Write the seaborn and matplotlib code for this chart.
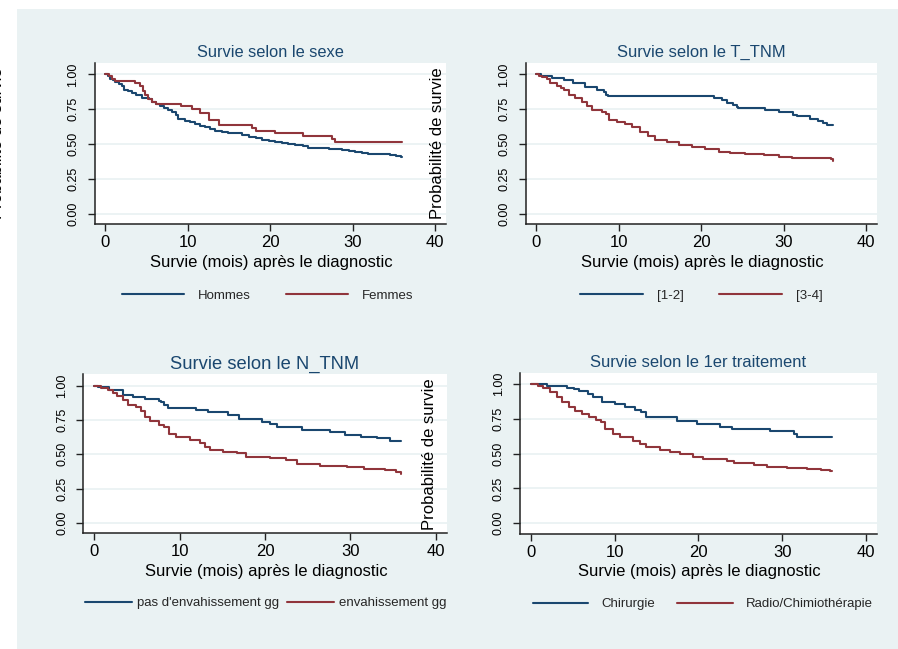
import numpy as np
import pandas as pd
import matplotlib
matplotlib.use("Agg")
import matplotlib.pyplot as plt
from matplotlib.lines import Line2D
from matplotlib.patches import Rectangle
import seaborn as sns

# ---------------- data ----------------
titles = ["Survie selon le sexe", "Survie selon le T_TNM",
          "Survie selon le N_TNM", "Survie selon le 1er traitement"]
xlabel = "Survie (mois) après le diagnostic"
ylabel = "Probabilité de survie"
xticks = [0, 10, 20, 30, 40]
yticks = [0.0, 0.25, 0.5, 0.75, 1.0]
ytick_labels = ["0.00", "0.25", "0.50", "0.75", "1.00"]

groups_sexe = ["Hommes", "Femmes"]
t_hommes = [0, 0.3, 0.6, 0.9, 1.2, 1.6, 2.0, 2.2, 2.7, 3.2, 3.7, 4.4, 5.25, 5.7, 6.1, 6.6, 7.1,
            7.6, 8.1, 8.5, 8.8, 9.7, 10.3, 10.9, 11.5, 12.1, 12.7, 13.3, 14.1, 14.9, 16.6, 17.4,
            18.2, 19.0, 19.8, 20.6, 21.4, 22.2, 23.0, 24.0, 24.6, 27.1, 28.7, 29.5, 30.3, 31.1,
            31.9, 33.5, 34.5, 35.2, 35.8, 36]
s_hommes = [1.0, 0.985, 0.97, 0.958, 0.945, 0.93, 0.915, 0.89, 0.88, 0.865, 0.85, 0.83, 0.82,
            0.805, 0.79, 0.775, 0.76, 0.745, 0.728, 0.71, 0.68, 0.666, 0.655, 0.644, 0.632, 0.62,
            0.607, 0.594, 0.584, 0.577, 0.565, 0.552, 0.54, 0.53, 0.522, 0.514, 0.507, 0.501,
            0.495, 0.484, 0.474, 0.464, 0.455, 0.452, 0.444, 0.437, 0.43, 0.426, 0.42, 0.412,
            0.406, 0.404]
t_femmes = [0, 0.4, 0.8, 1.2, 3.6, 4.2, 4.6, 4.85, 5.2, 5.6, 6.1, 9.2, 10.5, 11.5, 12.5, 13.8,
            17.8, 18.2, 20.6, 24.0, 27.5, 27.8, 36]
s_femmes = [1.0, 0.985, 0.97, 0.95, 0.935, 0.92, 0.88, 0.85, 0.82, 0.80, 0.785, 0.77, 0.75,
            0.72, 0.675, 0.64, 0.617, 0.593, 0.577, 0.557, 0.533, 0.512, 0.512]

groups_t = ["[1-2]", "[3-4]"]
t_t12 = [0, 0.6, 1.9, 3.3, 4.5, 5.9, 7.4, 8.2, 8.5, 8.7, 21.5, 22.5, 23.1, 23.9, 24.3, 24.5,
         27.8, 29.4, 31.2, 31.6, 33.2, 34.2, 34.8, 35.3, 36]
s_t12 = [1.0, 0.986, 0.976, 0.962, 0.935, 0.909, 0.89, 0.875, 0.855, 0.842, 0.83, 0.813, 0.797,
         0.778, 0.765, 0.76, 0.742, 0.727, 0.706, 0.70, 0.682, 0.667, 0.65, 0.64, 0.64]
t_t34 = [0, 0.3, 0.7, 1.3, 1.7, 2.5, 3.0, 3.3, 3.9, 4.7, 5.5, 6.1, 6.75, 8.0, 8.4, 8.8, 9.8,
         10.8, 11.6, 12.6, 13.6, 14.4, 15.8, 17.3, 18.9, 20.5, 22.1, 23.5, 25.3, 27.6, 29.4,
         31.0, 35.8, 36]
s_t34 = [1.0, 0.99, 0.98, 0.964, 0.938, 0.916, 0.90, 0.885, 0.85, 0.833, 0.80, 0.773, 0.746,
         0.73, 0.718, 0.67, 0.658, 0.643, 0.62, 0.586, 0.557, 0.529, 0.514, 0.495, 0.476, 0.462,
         0.443, 0.433, 0.426, 0.419, 0.409, 0.40, 0.392, 0.38]

groups_n = ["pas d'envahissement gg", "envahissement gg"]
t_n0 = [0, 0.4, 1.7, 3.3, 4.5, 5.9, 7.6, 7.8, 8.2, 8.6, 11.95, 13.3, 15.7, 17.0, 19.6, 20.6,
        21.4, 24.3, 27.6, 29.4, 31.2, 33.1, 34.6, 36]
s_n0 = [1.0, 0.99, 0.966, 0.935, 0.915, 0.90, 0.89, 0.877, 0.857, 0.84, 0.82, 0.809, 0.789,
        0.76, 0.736, 0.717, 0.70, 0.68, 0.659, 0.64, 0.625, 0.615, 0.596, 0.596]
t_n1 = [0, 0.8, 1.6, 2.2, 2.7, 3.3, 3.9, 4.9, 5.5, 5.9, 6.5, 7.6, 8.2, 8.7, 9.6, 11.2, 12.4,
        13.0, 13.5, 15.1, 16.7, 17.8, 20.6, 22.5, 23.7, 26.5, 29.6, 31.6, 34.1, 35.3, 36]
s_n1 = [1.0, 0.983, 0.966, 0.947, 0.925, 0.898, 0.857, 0.845, 0.814, 0.772, 0.741, 0.712, 0.70,
        0.651, 0.627, 0.603, 0.579, 0.554, 0.53, 0.518, 0.506, 0.482, 0.47, 0.458, 0.426,
        0.414, 0.404, 0.392, 0.383, 0.373, 0.356]

groups_trt = ["Chirurgie", "Radio/Chimiothérapie"]
t_chir = [0, 1.9, 4.3, 5.1, 5.7, 6.85, 7.45, 8.45, 10.0, 11.2, 12.4, 13.1, 13.8, 17.4, 19.8,
          22.6, 24.0, 28.6, 31.4, 31.8, 36]
s_chir = [1.0, 0.988, 0.974, 0.962, 0.947, 0.928, 0.904, 0.873, 0.856, 0.837, 0.817, 0.80,
          0.764, 0.736, 0.712, 0.692, 0.68, 0.661, 0.642, 0.618, 0.618]
t_radio = [0, 0.9, 1.5, 2.3, 3.1, 3.7, 4.5, 5.3, 6.1, 6.9, 7.8, 8.4, 8.8, 9.8, 10.6, 12.2,
           13.0, 13.8, 15.4, 16.6, 17.8, 19.4, 20.6, 23.4, 24.2, 26.6, 28.2, 30.6, 33.0, 34.6,
           35.7, 36]
s_radio = [1.0, 0.988, 0.974, 0.942, 0.906, 0.87, 0.839, 0.81, 0.786, 0.762, 0.743, 0.726,
           0.678, 0.642, 0.618, 0.594, 0.57, 0.546, 0.529, 0.514, 0.498, 0.478, 0.462, 0.45,
           0.43, 0.418, 0.406, 0.394, 0.389, 0.385, 0.373, 0.373]

panels_data = [
    (groups_sexe, (t_hommes, s_hommes), (t_femmes, s_femmes)),
    (groups_t, (t_t12, s_t12), (t_t34, s_t34)),
    (groups_n, (t_n0, s_n0), (t_n1, s_n1)),
    (groups_trt, (t_chir, s_chir), (t_radio, s_radio)),
]

# ---------------- styling / layout ----------------
W, H = 898, 649
BLUE, RED = "#1A476F", "#90353B"
BG = "#EAF2F3"
sns.set_style("white")
plt.rcParams["font.family"] = ["Liberation Sans", "DejaVu Sans"]

fig = plt.figure(figsize=(W / 100, H / 100), dpi=100, facecolor="white")
fig.patches.append(Rectangle((17 / W, 0), 1 - 17 / W, 1 - 9 / H, transform=fig.transFigure,
                             facecolor=BG, edgecolor="none", zorder=-10))

def px_rect(l, t, r, b):
    return [l / W, 1 - b / H, (r - l) / W, (b - t) / H]

# axes boxes in pixels (left, top, right, bottom)
boxes = [(94.7, 63, 446, 224), (525.7, 63, 876.7, 224),
         (83.3, 374.3, 446.7, 533.3), (520, 372.7, 876.7, 533.7)]
title_sizes = [11.8, 11.9, 13.2, 11.9]
title_pads = [4.1, 4.1, 3.8, 3.9]
xlabel_pos = [(271.7, 266.7), (702.5, 266.7), (266.2, 575.7), (699.5, 575.7)]
legend_pos = [(121.7, 295.5), (580, 295.5), (85, 603), (533, 604)]
legend_opts = [dict(handlelength=4.7, handletextpad=1.06, columnspacing=2.7),
               dict(handlelength=4.8, handletextpad=1.06, columnspacing=2.6),
               dict(handlelength=3.56, handletextpad=0.38, columnspacing=0.6),
               dict(handlelength=4.2, handletextpad=1.0, columnspacing=1.67)]
ylabel_pos = [(-2.0, 143.5), (437.5, 143.5), None, (429, 454)]

for i, (groups, g1, g2) in enumerate(panels_data):
    ax = fig.add_axes(px_rect(*boxes[i]), zorder=1)
    ax.set_facecolor("white")
    df = pd.concat([
        pd.DataFrame({"t": g1[0], "s": g1[1], "g": groups[0]}),
        pd.DataFrame({"t": g2[0], "s": g2[1], "g": groups[1]}),
    ], ignore_index=True)
    sns.lineplot(data=df, x="t", y="s", hue="g", palette={groups[0]: BLUE, groups[1]: RED},
                 estimator=None, drawstyle="steps-post", linewidth=1.5, legend=False, ax=ax)
    ax.set_xlim(-1.3, 41.3)
    ax.set_ylim(-0.075, 1.082)
    ax.set_xticks(xticks)
    ax.set_xticklabels([str(v) for v in xticks])
    ax.set_yticks(yticks)
    ax.set_yticklabels(ytick_labels, rotation=90, va="center")
    ax.set_xlabel("")
    ax.set_ylabel("")
    ax.yaxis.grid(True, color=BG, linewidth=1.3)
    ax.xaxis.grid(False)
    ax.set_axisbelow(True)
    for side in ["top", "right"]:
        ax.spines[side].set_visible(False)
    for side in ["left", "bottom"]:
        ax.spines[side].set_color("#222222")
        ax.spines[side].set_linewidth(1.1)
    ax.tick_params(axis="x", length=5, width=1, pad=3, labelsize=12, colors="#222222",
                   labelcolor="black", bottom=True)
    ax.tick_params(axis="y", length=5, width=1, pad=6, labelsize=9, colors="#222222",
                   labelcolor="black", left=True)
    ax.set_title(titles[i], fontsize=title_sizes[i], color=BLUE, pad=title_pads[i])
    fig.text(xlabel_pos[i][0] / W, 1 - xlabel_pos[i][1] / H, xlabel, ha="center",
             va="baseline", fontsize=12, color="black")
    handles = [Line2D([], [], color=BLUE, lw=1.5), Line2D([], [], color=RED, lw=1.5)]
    ax.legend(handles, groups, ncol=2, frameon=False, loc="center left",
              bbox_to_anchor=(legend_pos[i][0] / W, 1 - legend_pos[i][1] / H),
              bbox_transform=fig.transFigure, fontsize=9.5, borderpad=0, borderaxespad=0,
              **legend_opts[i])

for pos in ylabel_pos:
    if pos is None:
        continue
    fig.text(pos[0] / W, 1 - pos[1] / H, ylabel, rotation=90, ha="center", va="center",
             fontsize=12, color="black", zorder=10)

fig.savefig("out.png", dpi=100, facecolor="white")
